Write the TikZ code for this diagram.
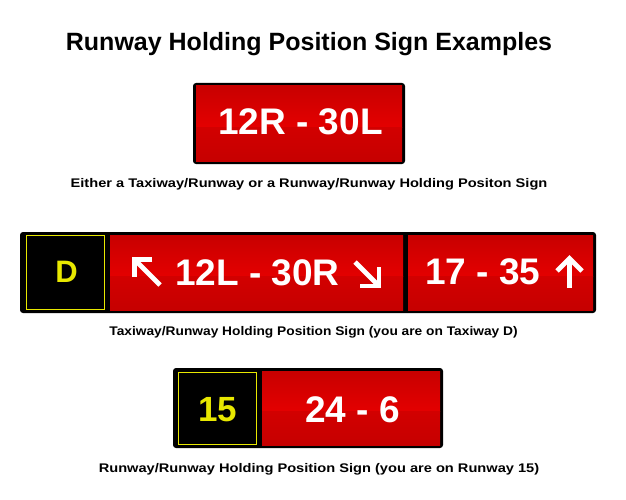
\documentclass[tikz,border=0pt]{standalone}
\usepackage{fontspec}
\setmainfont{Liberation Sans}
\newfontfamily\capfont[FakeStretch=1.17]{Liberation Sans}
\newfontfamily\capfontb[FakeStretch=1.1]{Liberation Sans}
\definecolor{sgyellow}{RGB}{232,232,0}
\definecolor{redtop}{RGB}{200,0,0}
\definecolor{redmid}{RGB}{228,0,0}
\definecolor{redlow}{RGB}{210,0,0}
\definecolor{redbot}{RGB}{198,0,0}
\newcommand{\redpanel}[4]{%
  \pgfmathsetmacro{\ymidv}{#2+0.55*(#4-#2)}
  \shade[top color=redtop,bottom color=redmid] (#1,#2) rectangle (#3,\ymidv);
  \shade[top color=redlow,bottom color=redbot] (#1,\ymidv) rectangle (#3,#4);
}
\begin{document}
\begin{tikzpicture}[x=1pt,y=-1pt,
  outerbox/.style={fill=black,rounded corners=3pt},
  yelbox/.style={draw=sgyellow,line width=1.5pt,fill=black},
  title/.style={font=\bfseries\fontsize{25}{28}\selectfont,anchor=base},
  caption/.style={font=\capfont\bfseries\fontsize{12.5}{14}\selectfont,anchor=base},
  captionb/.style={font=\capfontb\bfseries\fontsize{12.5}{14}\selectfont,anchor=base},
  signtxt/.style={font=\bfseries\fontsize{37}{40}\selectfont,text=white,anchor=base,inner sep=0pt},
  locbig/.style={font=\bfseries\fontsize{35}{40}\selectfont,text=sgyellow,anchor=base,inner sep=0pt},
  locsmall/.style={font=\bfseries\fontsize{31}{36}\selectfont,text=sgyellow,anchor=base,inner sep=0pt},
  arr/.style={draw=white,line width=4.8pt,line join=miter,line cap=butt}
]
\useasboundingbox (0,0) rectangle (626,500);
\fill[white] (0,0) rectangle (626,500);

\node[title] (t) at (309,51) {Runway Holding Position Sign Examples};

% Sign 1
\fill[outerbox] (193,83) rectangle (405,164);
\redpanel{196}{86}{402}{161}
\node[signtxt] (s1) at (300.5,135) {12R - 30L};
\node[caption] (c1) at (309,187) {Either a Taxiway/Runway or a Runway/Runway Holding Positon Sign};

% Sign 2
\fill[outerbox] (20,232) rectangle (596,313);
\draw[yelbox] (26.5,235.5) rectangle (104.5,309.5);
\redpanel{110}{235}{403}{310}
\redpanel{408}{235}{593}{310}
\node[locsmall] (d) at (66.5,282) {D};
\node[signtxt] (s2a) at (257.5,285) {12L - 30R};
\node[signtxt] (s2b) at (483,284) {17 - 35};
% arrows
\coordinate (a1tip) at (134.5,259.5);
\coordinate (a1tail) at (160,285);
\draw[arr] (152,259.5) -- (a1tip) -- (134.5,277);
\draw[arr] (a1tip) -- (a1tail);
\coordinate (a2tip) at (379,286);
\coordinate (a2tail) at (355,262);
\draw[arr] (379,267) -- (a2tip) -- (360,286);
\draw[arr] (a2tail) -- (a2tip);
\coordinate (a3tip) at (569.5,258.5);
\coordinate (a3tail) at (569.5,288);
\draw[arr] (557,271) -- (a3tip) -- (582,271);
\draw[arr] (a3tip) -- (a3tail);
\node[captionb] (c2) at (313.5,335) {Taxiway/Runway Holding Position Sign (you are on Taxiway D)};

% Sign 3
\fill[outerbox] (173,368) rectangle (443,448);
\draw[yelbox] (178.5,372.5) rectangle (256.5,444.5);
\redpanel{262}{371}{440}{445}
\node[locbig] (n15) at (217.5,421) {15};
\node[signtxt] (s3) at (352.5,422) {24 - 6};
\node[caption] (c3) at (319,472) {Runway/Runway Holding Position Sign (you are on Runway 15)};
\end{tikzpicture}
\end{document}
